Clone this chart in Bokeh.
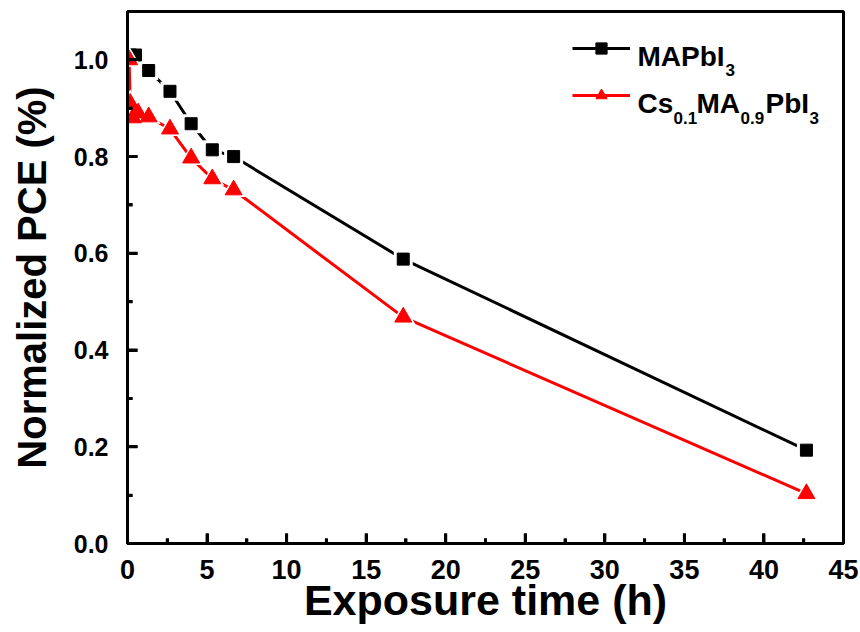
from bokeh.plotting import figure
from bokeh.models import (Range1d, FixedTicker, NumeralTickFormatter, Legend, LegendItem, Label)
from bokeh.embed import file_html
from bokeh.resources import INLINE

# ---- data ----
time_mapbi = [0.17, 0.5, 1.33, 2.67, 4.0, 5.33, 6.67, 17.33, 42.67]
pce_mapbi = [1.01, 1.01, 0.978, 0.935, 0.868, 0.814, 0.80, 0.588, 0.193]

time_cs = [0.1, 0.17, 0.33, 0.67, 1.33, 2.67, 4.0, 5.33, 6.67, 17.33, 42.67]
pce_cs = [1.0, 0.91, 0.88, 0.89, 0.882, 0.857, 0.797, 0.754, 0.731, 0.468, 0.103]

x_ticks = [0, 5, 10, 15, 20, 25, 30, 35, 40, 45]
x_minor = [2.5, 7.5, 12.5, 17.5, 22.5, 27.5, 32.5, 37.5, 42.5]
y_ticks = [0.0, 0.2, 0.4, 0.6, 0.8, 1.0]
y_minor = [0.1, 0.3, 0.5, 0.7, 0.9]

X_MIN, X_MAX = 0, 45
Y_MIN, Y_MAX = 0, 1.1

FONT = "Liberation Sans"
TICK = "black"

p = figure(width=860, height=632, output_backend="svg", toolbar_location=None,
           x_range=Range1d(X_MIN, X_MAX), y_range=Range1d(Y_MIN, Y_MAX),
           min_border_left=127, min_border_right=17, min_border_top=11, min_border_bottom=89)
p.grid.visible = False
p.outline_line_color = "black"
p.outline_line_width = 3

p.xaxis.ticker = FixedTicker(ticks=x_ticks, minor_ticks=x_minor)
p.yaxis.ticker = FixedTicker(ticks=y_ticks, minor_ticks=y_minor)
p.yaxis.formatter = NumeralTickFormatter(format="0.0")

p.axis.axis_line_width = 3
p.axis.axis_line_color = "black"
p.axis.major_tick_in = 10
p.axis.major_tick_out = 0
p.axis.minor_tick_in = 5
p.axis.minor_tick_out = 0
p.axis.major_tick_line_width = 3
p.axis.minor_tick_line_width = 3
p.axis.major_tick_line_color = TICK
p.axis.minor_tick_line_color = TICK
p.axis.major_label_text_font = FONT
p.axis.major_label_text_font_style = "bold"
p.axis.major_label_text_color = "black"
p.axis.axis_label_text_font = FONT
p.axis.axis_label_text_font_style = "bold"
p.axis.axis_label_text_color = "black"

p.xaxis.major_label_text_font_size = "27px"
p.yaxis.major_label_text_font_size = "25px"
p.xaxis.axis_label_text_font_size = "43px"
p.yaxis.axis_label_text_font_size = "40px"
p.xaxis.major_label_standoff = 16
p.yaxis.major_label_standoff = 19
p.xaxis.axis_label_standoff = -6
p.yaxis.axis_label_standoff = 17
p.xaxis.axis_label = "Exposure time (h)"
p.yaxis.axis_label = "Normalized PCE (%)"

# ---- series ----
l1 = p.line(time_mapbi, pce_mapbi, line_color="black", line_width=3)
h1 = p.scatter(time_mapbi, pce_mapbi, marker="square", size=19, fill_color="white", line_color=None)
m1 = p.scatter(time_mapbi, pce_mapbi, marker="square", size=12, fill_color="black", line_color="black")

l2 = p.line(time_cs, pce_cs, line_color="red", line_width=3)
h2 = p.scatter(time_cs, pce_cs, marker="triangle", size=24, fill_color="white", line_color=None)
m2 = p.scatter(time_cs, pce_cs, marker="triangle", size=17, fill_color="red", line_color="red")

# inward ticks also as screen-sized rects centred on the axes (outer half clipped by frame)
p.rect(x=x_ticks, y=[Y_MIN] * len(x_ticks), width=3, height=20, width_units="screen",
       height_units="screen", fill_color=TICK, line_color=None)
p.rect(x=x_minor, y=[Y_MIN] * len(x_minor), width=3, height=10, width_units="screen",
       height_units="screen", fill_color=TICK, line_color=None)
p.rect(x=[X_MIN] * len(y_ticks), y=y_ticks, width=20, height=3, width_units="screen",
       height_units="screen", fill_color=TICK, line_color=None)
p.rect(x=[X_MIN] * len(y_minor), y=y_minor, width=10, height=3, width_units="screen",
       height_units="screen", fill_color=TICK, line_color=None)

legend = Legend(items=[LegendItem(label=" ", renderers=[l1, h1, m1]),
                       LegendItem(label=" ", renderers=[l2, h2, m2])],
                location=(445, 434), orientation="vertical",
                glyph_width=58, glyph_height=28, label_height=28, label_width=0,
                label_standoff=0, spacing=19, padding=0, margin=0,
                label_text_font_size="1px",
                border_line_color=None, background_fill_alpha=0)
p.add_layout(legend)

# legend texts with subscripts, in frame-relative screen units
def txt(x, y, s, size):
    p.add_layout(Label(x=x, y=y, x_units="screen", y_units="screen", text=s,
                       text_font=FONT, text_font_style="bold", text_font_size=size,
                       text_color="black", text_baseline="alphabetic", text_align="left"))

BIG, SUB = "28px", "17px"
txt(510, 487, "MAPbI", BIG)
txt(598, 474, "3", SUB)
txt(510, 440, "Cs", BIG)
txt(546, 426, "0.1", SUB)
txt(569, 440, "MA", BIG)
txt(613, 426, "0.9", SUB)
txt(638, 440, "PbI", BIG)
txt(682, 426, "3", SUB)

open("out.html", "w").write(file_html(p, INLINE))
